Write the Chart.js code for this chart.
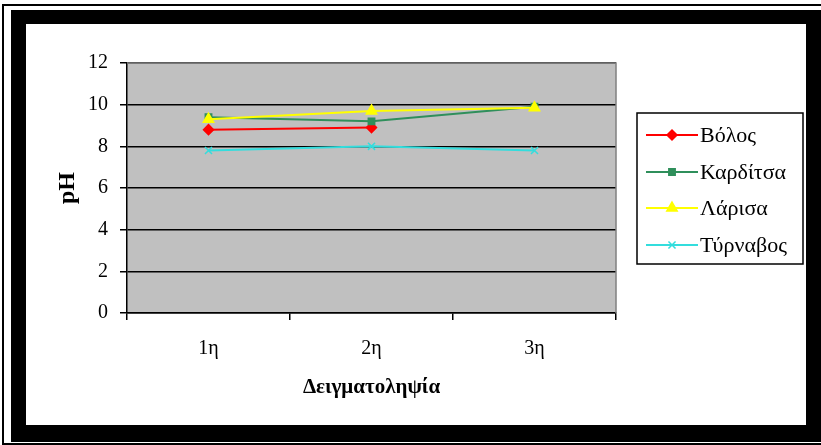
<!DOCTYPE html>
<html>
<head>
<meta charset="utf-8">
<script src="https://cdn.jsdelivr.net/npm/chart.js@4/dist/chart.umd.min.js"></script>
<style>
  html, body { margin: 0; padding: 0; width: 821px; height: 445px; overflow: hidden; background: #fff; }
  .thin { position: absolute; left: 2px; top: 4px; width: 830px; height: 437px; border: 2px solid #000; }
  .thick { position: absolute; left: 11px; top: 10px; width: 810px; height: 432px; background: #000; }
  .inner { position: absolute; left: 26px; top: 24px; width: 780px; height: 401px; background: #fff; }
  canvas { position: absolute; left: 26px; top: 24px; }
</style>
</head>
<body>
<div class="thin"></div>
<div class="thick"></div>
<div class="inner"></div>
<canvas id="c" width="780" height="401"></canvas>
<script>
// Sampling rounds (x axis) and pH per town
const categories = ['1η', '2η', '3η'];
const volos     = [8.8, 8.9, null];
const karditsa  = [9.4, 9.2, 9.9];
const larisa    = [9.3, 9.7, 9.85];
const tyrnavos  = [7.8, 8.0, 7.8];
const yTicks    = [0, 2, 4, 6, 8, 10, 12];

const seriesNames = ['Βόλος', 'Καρδίτσα', 'Λάρισα', 'Τύρναβος'];
const seriesData = [volos, karditsa, larisa, tyrnavos];
const seriesColors = ['#FF0000', '#2F8F5B', '#FFFF00', '#33DDDD'];
const seriesPoints = ['rectRot', 'rect', 'triangle', 'crossRot'];
const seriesRadius = [5, 4.5, 6, 5];

const SERIF = '"Liberation Serif", "Times New Roman", serif';

// Grey plot area with a darker frame, like a classic spreadsheet chart
const plotBackground = {
  id: 'plotBackground',
  beforeDraw(chart) {
    const { ctx, chartArea: a } = chart;
    ctx.save();
    ctx.fillStyle = '#C0C0C0';
    ctx.fillRect(a.left, a.top, a.right - a.left, a.bottom - a.top);
    ctx.restore();
  },
  beforeDatasetsDraw(chart) {
    const { ctx, chartArea: a } = chart;
    ctx.save();
    ctx.strokeStyle = '#808080';
    ctx.lineWidth = 1.5;
    ctx.beginPath();
    ctx.moveTo(a.left, a.top);
    ctx.lineTo(a.right, a.top);
    ctx.lineTo(a.right, a.bottom);
    ctx.stroke();
    ctx.restore();
  }
};

// Boxed legend on the right: line sample with marker, then the town name
const sideLegend = {
  id: 'sideLegend',
  afterDraw(chart) {
    const { ctx } = chart;
    const box = { x: 611, y: 89, w: 166, h: 151 };
    const rowY = [111, 148, 184, 221];
    ctx.save();
    ctx.fillStyle = '#fff';
    ctx.fillRect(box.x, box.y, box.w, box.h);
    ctx.strokeStyle = '#000';
    ctx.lineWidth = 1.5;
    ctx.strokeRect(box.x, box.y, box.w, box.h);
    chart.data.datasets.forEach((ds, i) => {
      const y = rowY[i];
      ctx.strokeStyle = ds.borderColor;
      ctx.lineWidth = ds.borderWidth;
      ctx.beginPath();
      ctx.moveTo(620, y);
      ctx.lineTo(672, y);
      ctx.stroke();
      ctx.fillStyle = ds.backgroundColor;
      ctx.strokeStyle = ds.borderColor;
      ctx.lineWidth = 1.5;
      Chart.helpers.drawPoint(ctx, {
        pointStyle: ds.pointStyle, radius: ds.pointRadius, rotation: 0, borderWidth: 1.5
      }, 646, y);
      ctx.fillStyle = '#000';
      ctx.font = '22px ' + SERIF;
      ctx.textBaseline = 'middle';
      ctx.textAlign = 'left';
      ctx.fillText(ds.label, 674, y + 1);
    });
    ctx.restore();
  }
};

const datasets = seriesNames.map((name, i) => ({
  label: name,
  data: seriesData[i],
  borderColor: seriesColors[i],
  backgroundColor: seriesColors[i],
  borderWidth: 2,
  pointStyle: seriesPoints[i],
  pointRadius: seriesRadius[i],
  pointBorderWidth: 1.5,
  tension: 0,
  spanGaps: false,
  order: seriesNames.length - i
}));

new Chart(document.getElementById('c'), {
  type: 'line',
  data: { labels: categories, datasets },
  plugins: [plotBackground, sideLegend],
  options: {
    responsive: false,
    animation: false,
    devicePixelRatio: 1,
    layout: { padding: { top: 39, right: 190, left: 0, bottom: 0 } },
    plugins: { legend: { display: false }, tooltip: { enabled: false } },
    scales: {
      x: {
        type: 'category',
        offset: true,
        afterFit(scale) { scale.height = 112; },
        grid: {
          offset: true,
          drawOnChartArea: false,
          drawTicks: true,
          tickLength: 7,
          color: '#000',
          lineWidth: 1.5
        },
        border: { color: '#000', width: 1.5 },
        ticks: { color: '#000', padding: 17, font: { family: SERIF, size: 20 } },
        title: {
          display: true,
          text: 'Δειγματοληψία',
          color: '#000',
          font: { family: SERIF, size: 21, weight: 'bold' },
          padding: { top: 0, bottom: 25 }
        }
      },
      y: {
        min: 0,
        max: 12,
        afterFit(scale) { scale.width = 101; },
        afterBuildTicks(scale) { scale.ticks = yTicks.map(v => ({ value: v })); },
        grid: {
          drawTicks: true,
          tickLength: 7,
          color: '#000',
          lineWidth: 1.5
        },
        border: { color: '#000', width: 1.5 },
        ticks: { color: '#000', padding: 12, font: { family: SERIF, size: 20 } },
        title: {
          display: true,
          text: 'pH',
          color: '#000',
          font: { family: SERIF, size: 24, weight: 'bold' },
          padding: { top: 27, bottom: 0 }
        }
      }
    }
  }
});
</script>
</body>
</html>
